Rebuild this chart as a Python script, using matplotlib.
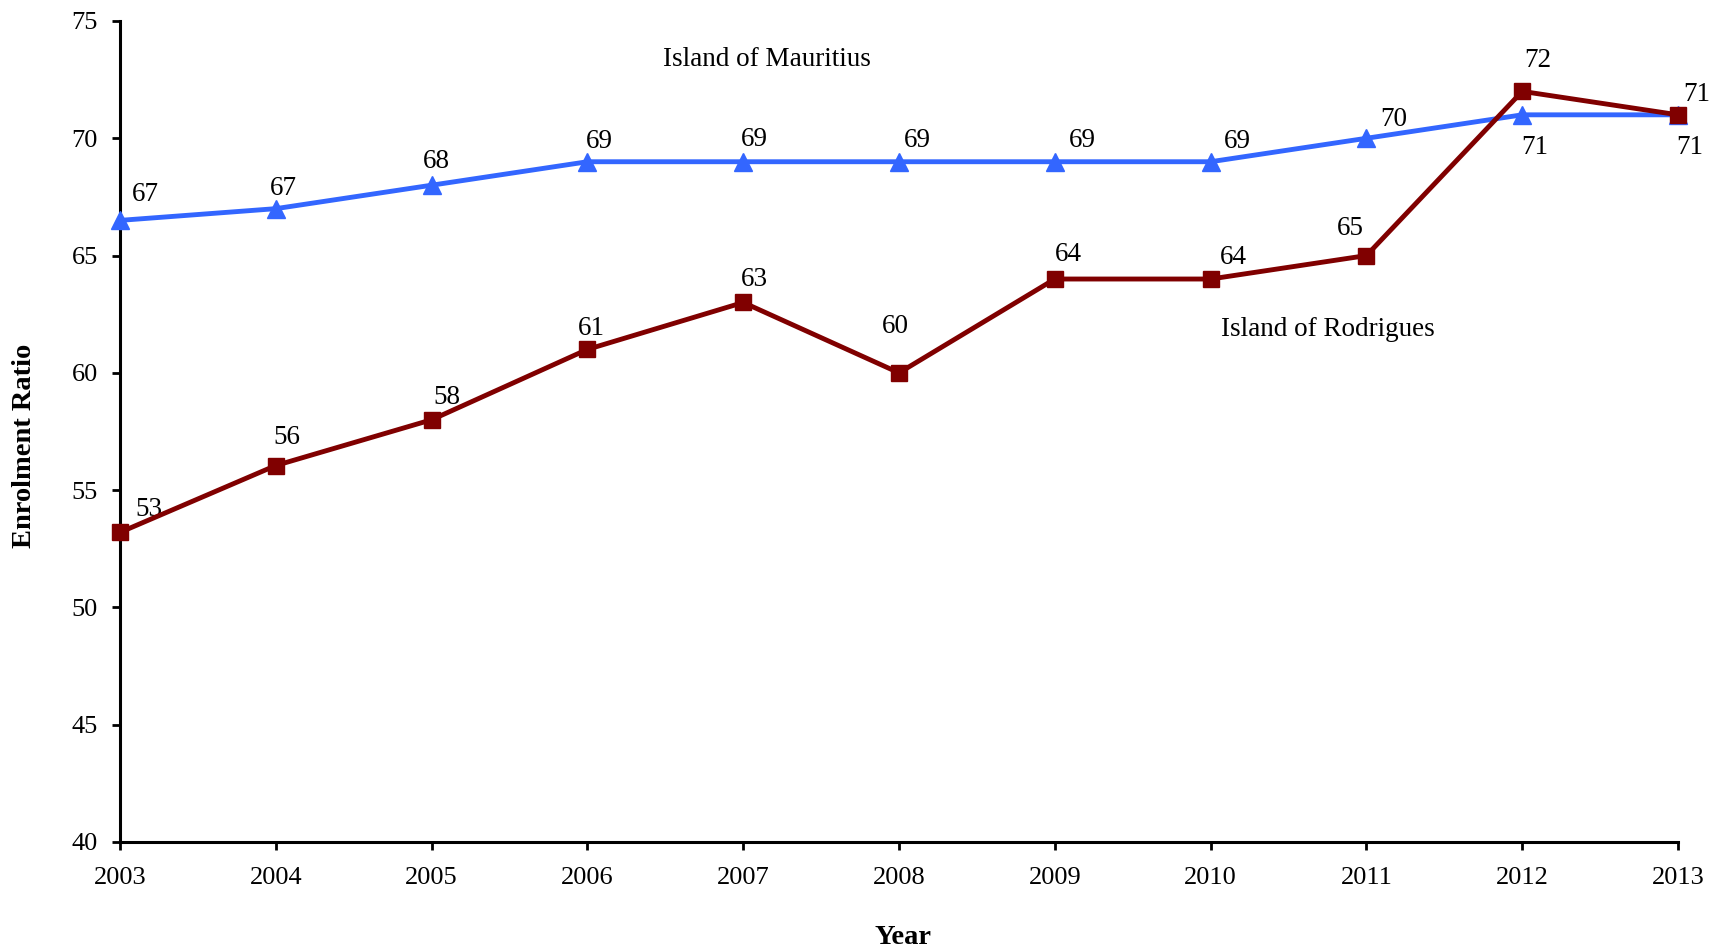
import matplotlib
matplotlib.use("Agg")
import matplotlib.pyplot as plt

years = [2003, 2004, 2005, 2006, 2007, 2008, 2009, 2010, 2011, 2012, 2013]
mauritius = [66.5, 67.0, 68.0, 69.0, 69.0, 69.0, 69.0, 69.0, 70.0, 71.0, 71.0]
rodrigues = [53.2, 56.05, 58.0, 61.0, 63.0, 60.0, 64.0, 64.0, 65.0, 72.0, 71.0]
mauritius_labels = ["67", "67", "68", "69", "69", "69", "69", "69", "70", "71", "71"]
rodrigues_labels = ["53", "56", "58", "61", "63", "60", "64", "64", "65", "72", "71"]
yticks = [40, 45, 50, 55, 60, 65, 70, 75]

# label offsets in pixels (dx, dy), dy positive = upward
m_off = [(25, 26), (8, 20), (5, 24), (12, 20), (11, 22), (18, 21), (28, 21), (27, 20), (27, 19), (13, -33), (12, -33)]
r_off = [(29, 23), (11, 28), (15, 22), (4, 21), (11, 23), (-4, 46), (14, 25), (23, 22), (-16, 27), (16, 31), (19, 20)]

plt.rcParams['font.family'] = ['Liberation Serif', 'DejaVu Serif']

fig = plt.figure(figsize=(17.1, 9.5), dpi=100)
ax = fig.add_axes([0.0702, 0.1137, 0.9111, 0.8642])

blue = '#3366FF'
red = '#800000'
ax.plot(years, mauritius, color=blue, lw=3.5, marker='^', ms=13.5, clip_on=False, zorder=3)
ax.plot(years, rodrigues, color=red, lw=3.5, marker='s', ms=11, clip_on=False, zorder=4)

for x, y, t, (dx, dy) in zip(years, mauritius, mauritius_labels, m_off):
    ax.annotate(t, (x, y), xytext=(dx, dy), textcoords='offset pixels',
                ha='center', va='center', fontsize=19.5, annotation_clip=False)
for x, y, t, (dx, dy) in zip(years, rodrigues, rodrigues_labels, r_off):
    ax.annotate(t, (x, y), xytext=(dx, dy), textcoords='offset pixels',
                ha='center', va='center', fontsize=19.5, annotation_clip=False)

ax.text(2007.15, 73.35, "Island of Mauritius", fontsize=19.5, ha='center', va='center')
ax.text(2010.75, 61.84, "Island of Rodrigues", fontsize=19.5, ha='center', va='center')

ax.set_xlim(2003, 2013)
ax.set_ylim(40, 75)
ax.set_xticks(years)
ax.set_xticklabels([str(y) for y in years])
ax.set_yticks(yticks)
ax.tick_params(axis='both', labelsize=19, direction='out', length=6, width=2)
ax.tick_params(axis='y', pad=10)
ax.tick_params(axis='x', pad=12)
for s in ['top', 'right']:
    ax.spines[s].set_visible(False)
for s in ['left', 'bottom']:
    ax.spines[s].set_linewidth(2.2)

fig.text(903 / 1710, 1 - 937 / 950, "Year", fontsize=20.5, fontweight='bold', ha='center', va='center')
fig.text(25 / 1710, 1 - 446 / 950, "Enrolment Ratio", fontsize=20.5, fontweight='bold', ha='center', va='center', rotation=90)

fig.savefig("out.png", dpi=100)
